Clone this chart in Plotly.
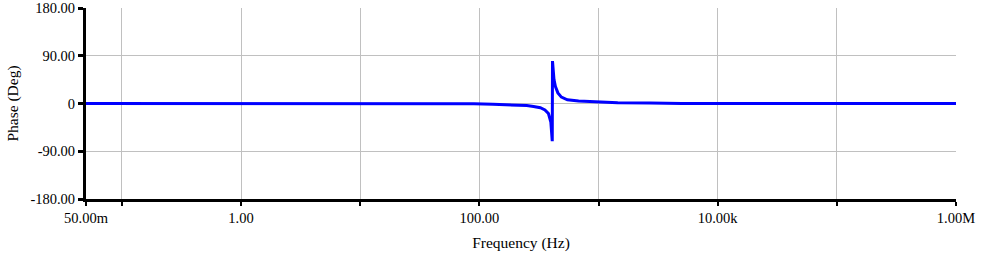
import plotly.graph_objects as go

freq_hz = [0.05, 1, 10, 50, 90, 130, 190, 250, 285, 325, 355, 380, 398, 405, 409,
           411, 415, 423, 435, 456, 488, 548, 680, 890, 1450, 2700, 3700, 5000, 1e5, 1e6]
phase_deg = [0, 0, 0, 0, -0.5, -1.5, -2.5, -4, -5.5, -8, -12, -19, -35, -55, -71,
             80, 60, 45, 32, 20, 12, 7, 4.5, 3, 1.5, 1, 0, 0, 0, 0]

x_grid_vals = [0.05, 0.1, 1, 10, 100, 1000, 1e4, 1e5, 1e6]
x_grid_text = ["50.00m", "", "1.00", "", "100.00", "", "10.00k", "", "1.00M"]
y_tick_vals = [-180, -90, 0, 90, 180]
y_tick_text = ["-180.00", "-90.00", "0", "90.00", "180.00"]

font = dict(family="Liberation Serif, Times New Roman, serif", size=14.5, color="black")
title_font = dict(family="Liberation Serif, Times New Roman, serif", size=15.5, color="black")

fig = go.Figure()
fig.add_trace(go.Scatter(x=freq_hz, y=phase_deg, mode="lines",
                         line=dict(color="#0000ff", width=3), hoverinfo="skip"))

fig.update_layout(
    width=1004, height=253,
    margin=dict(l=86, r=48, t=8, b=54, autoexpand=False),
    paper_bgcolor="white", plot_bgcolor="white",
    showlegend=False, font=font,
    xaxis=dict(type="log", range=[-1.30103, 6], tickvals=x_grid_vals, ticktext=x_grid_text,
               showgrid=True, gridcolor="#c0c0c0", gridwidth=1, automargin=False,
               showline=True, linecolor="black", linewidth=3,
               ticks="outside", ticklen=4, tickwidth=2, tickcolor="black",
               zeroline=False, tickfont=font,
               title=dict(text="Frequency (Hz)", font=title_font, standoff=12)),
    yaxis=dict(range=[-180, 180], tickvals=y_tick_vals, ticktext=y_tick_text,
               showgrid=True, gridcolor="#c0c0c0", gridwidth=1, automargin=False,
               showline=True, linecolor="black", linewidth=3,
               ticks="outside", ticklen=5, tickwidth=3, tickcolor="black",
               zeroline=False, tickfont=font,
               title=dict(text="Phase (Deg)", font=title_font, standoff=8)),
)

fig.write_html("out.html")
